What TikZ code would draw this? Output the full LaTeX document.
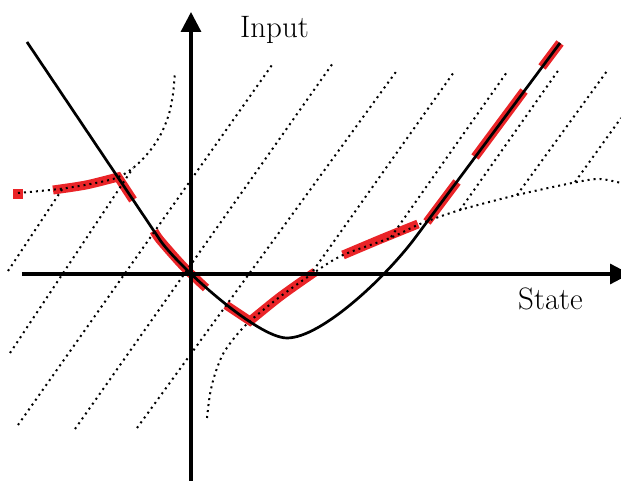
\documentclass[tikz,border=0pt]{standalone}
\usepackage{tikz}
\usetikzlibrary{arrows.meta}
\definecolor{segred}{RGB}{234,36,40}

\begin{document}
\begin{tikzpicture}[
  x=1pt, y=1pt,
  font=\fontsize{31}{37}\selectfont,
  axis/.style={line width=3.3pt, -{Triangle[length=20pt, width=20pt]}},
  curve/.style={line width=2.7pt},
  flow/.style={line width=2pt, dash pattern=on 2pt off 4pt},
  seg/.style={segred, line width=9pt}
]
  \useasboundingbox (-191,-207) rectangle (430,274);

  % red pieces of the chosen path
  \fill[segred] (-178,75) rectangle (-168,85);
  \draw[seg] plot[smooth] coordinates {(-138,84) (-105,89) (-73,97)} -- (-58,74);
  \draw[seg] plot[smooth] coordinates {(-37,43) (-31,34) (-8,8) (15,-14)};
  \draw[seg] (35,-31) -- plot[smooth] coordinates {(59,-47) (90,-22) (124,2)};
  \draw[seg] plot[smooth] coordinates {(152,19) (190,35) (227,50)};
  \draw[seg] (236,52) -- (266,92);
  \draw[seg] (284,117) -- (333,183);
  \draw[seg] (351,207) -- (369,231);

  % separating curves
  \draw[flow] plot[smooth] coordinates {(-173,81) (-124,86) (-78,95) (-58,106)
    (-42,122) (-30,140) (-22,160) (-18,180) (-16,202)};
  \draw[flow] plot[smooth] coordinates {(16,-144) (19,-120) (24,-100) (32,-80)
    (44,-63) (59,-47) (90,-22) (124,2) (152,19) (199,36) (229,50) (269,64)
    (326,79) (386,92) (409,95) (430,91)};

  % trajectories
  \draw[flow] (-183,3) -- (-128,86);
  \draw[flow] (-181,-79) -- (-58,106);
  \draw[flow] (-173,-151) -- (81,209);
  \draw[flow] (-116,-155) -- (142,211);
  \draw[flow] (-54,-154) -- (207,205);
  \draw[flow] (122,3) -- (263,202);
  \draw[flow] (200,37) -- (316,202);
  \draw[flow] (269,64) -- (369,206);
  \draw[flow] (326,79) -- (416,203);
  \draw[flow] (384,92) -- (430,156);

  % curve
  \draw[curve] (-164,232) -- (-31,34) .. controls (-14,9) and (66,-64) .. (96,-64)
    .. controls (130,-64) and (194,-4) .. (224,36) -- (369,231);

  % axes
  \coordinate (O) at (0,0);
  \draw[axis] (-169,0) -- (439,0);
  \draw[axis] (0,-207) -- (0,262);
  \node[anchor=base west, inner sep=0pt] (input) at (49,236) {Input};
  \node[anchor=base west, inner sep=0pt] (state) at (327,-36) {State};
\end{tikzpicture}
\end{document}
